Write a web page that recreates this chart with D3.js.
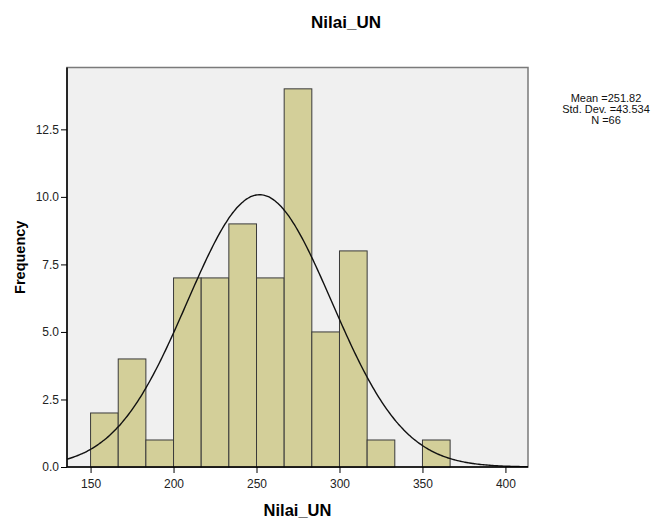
<!DOCTYPE html>
<html lang="en">
<head>
<meta charset="UTF-8">
<title>Nilai_UN</title>
<style>
    body { margin: 0; padding: 0; background: #fff; font-family: "Liberation Sans", Arial, sans-serif; }
    .tick text { fill: #222; font-size: 12px; font-family: "Liberation Sans", Arial, sans-serif; }
    .tick line { stroke: #000; }
</style>
</head>
<body>
<div id="chart"></div>
<script src="https://d3js.org/d3.v7.min.js"></script>
<script>
    // histogram bins (lower edges, width 50/3) and their counts
    const binWidth = 50 / 3;
    const binStarts = [150, 166.667, 183.333, 200, 216.667, 233.333, 250, 266.667, 283.333, 300, 316.667, 333.333, 350];
    const counts = [2, 4, 1, 7, 7, 9, 7, 14, 5, 8, 1, 0, 1];
    const xTicks = [150, 200, 250, 300, 350, 400];
    const yTicks = [0, 2.5, 5, 7.5, 10, 12.5];
    const mean = 251.82, sd = 43.534, n = 66;
    const statLines = ["Mean =251.82", "Std. Dev. =43.534", "N =66"];

    const W = 663, H = 523;
    const margin = { top: 67.5, right: 135, bottom: 56, left: 67 };
    const width = W - margin.left - margin.right;
    const height = H - margin.top - margin.bottom;

    const svg = d3.select("#chart").append("svg")
        .attr("width", W)
        .attr("height", H);

    const g = svg.append("g")
        .attr("transform", "translate(" + margin.left + "," + margin.top + ")");

    const x = d3.scaleLinear().domain([135.8, 413.6]).range([0, width]);
    const y = d3.scaleLinear().domain([0, 14.79]).range([height, 0]);

    g.append("defs").append("clipPath").attr("id", "clip")
        .append("rect").attr("width", width).attr("height", height);

    // background + grey frame
    g.append("rect")
        .attr("width", width)
        .attr("height", height)
        .attr("fill", "#f0f0f0")
        .attr("stroke", "#7a7a7a")
        .attr("stroke-width", 1.5);

    const bins = binStarts.map((s, i) => ({ x0: s, x1: s + binWidth, count: counts[i] }))
        .filter(d => d.count > 0);

    g.selectAll(".bar")
        .data(bins)
        .enter().append("rect")
        .attr("class", "bar")
        .attr("x", d => x(d.x0))
        .attr("y", d => y(d.count))
        .attr("width", d => x(d.x1) - x(d.x0))
        .attr("height", d => y(0) - y(d.count))
        .attr("fill", "#d3cf99")
        .attr("stroke", "#3a3a3a")
        .attr("stroke-width", 1);

    // normal curve scaled to counts
    const curvePts = d3.range(0, 301).map(i => {
        const xv = 135.8 + (413.6 - 135.8) * i / 300;
        const z = (xv - mean) / sd;
        return [xv, n * binWidth * Math.exp(-0.5 * z * z) / (sd * Math.sqrt(2 * Math.PI))];
    });

    g.append("path")
        .datum(curvePts)
        .attr("clip-path", "url(#clip)")
        .attr("fill", "none")
        .attr("stroke", "#111")
        .attr("stroke-width", 1.4)
        .attr("d", d3.line().x(d => x(d[0])).y(d => y(d[1])).curve(d3.curveBasis));

    const xAxis = g.append("g")
        .attr("transform", "translate(0," + height + ")")
        .call(d3.axisBottom(x).tickValues(xTicks).tickSizeOuter(0).tickSize(6).tickPadding(6));
    xAxis.select(".domain").remove();

    const yAxis = g.append("g")
        .call(d3.axisLeft(y).tickValues(yTicks).tickFormat(d3.format(".1f")).tickSizeOuter(0).tickSize(6).tickPadding(2));
    yAxis.select(".domain").remove();

    // black axis lines on left and bottom
    g.append("line")
        .attr("x1", 0).attr("x2", 0)
        .attr("y1", 0).attr("y2", height)
        .attr("stroke", "#000").attr("stroke-width", 1.5);
    g.append("line")
        .attr("x1", 0).attr("x2", width)
        .attr("y1", height).attr("y2", height)
        .attr("stroke", "#000").attr("stroke-width", 1.5);

    // titles
    svg.append("text")
        .attr("x", 346)
        .attr("y", 28)
        .attr("text-anchor", "middle")
        .style("font-size", "17px")
        .style("font-weight", "bold")
        .text("Nilai_UN");

    svg.append("text")
        .attr("x", margin.left + width / 2)
        .attr("y", 516)
        .attr("text-anchor", "middle")
        .style("font-size", "16.5px")
        .style("font-weight", "bold")
        .text("Nilai_UN");

    svg.append("text")
        .attr("transform", "translate(25," + (margin.top + height / 2 - 10) + ") rotate(-90)")
        .attr("text-anchor", "middle")
        .style("font-size", "14.5px")
        .style("font-weight", "bold")
        .text("Frequency");

    svg.append("g").selectAll("text")
        .data(statLines)
        .enter().append("text")
        .attr("x", 606)
        .attr("y", (d, i) => 102 + i * 11)
        .attr("text-anchor", "middle")
        .style("font-size", "11px")
        .style("fill", "#111")
        .text(d => d);
</script>
</body>
</html>
